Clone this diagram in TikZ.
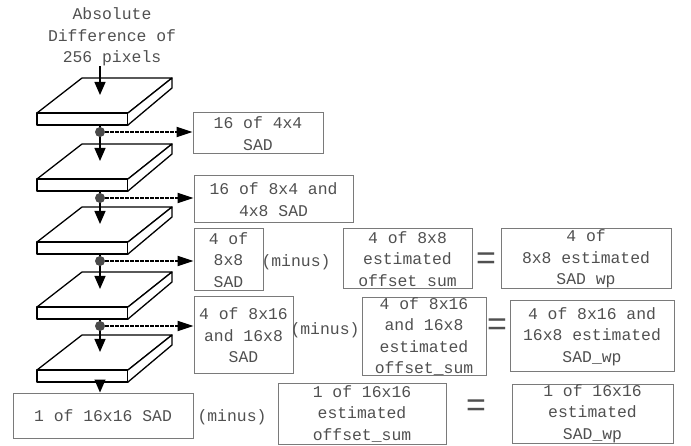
\documentclass[tikz,border=0pt]{standalone}
\usepackage{fontspec}
\newfontfamily\courier{Liberation Mono}
\newfontfamily\arialfont{Liberation Sans}
\usetikzlibrary{arrows.meta}
\definecolor{txtgray}{HTML}{505050}
\definecolor{boxgray}{HTML}{7A7A7A}
\definecolor{dotgray}{HTML}{4A4A4A}

\begin{document}
\begin{tikzpicture}[x=1pt,y=-1pt,
  lbl/.style={text=txtgray, font=\courier\fontsize{16.4}{21.5}\selectfont, align=center, inner sep=0pt},
  sad/.style={lbl, draw=boxgray, line width=1pt},
  eqsign/.style={text=txtgray, font=\arialfont\fontsize{34}{34}\selectfont, inner sep=0pt},
  down/.style={-{Triangle[length=13pt,width=11pt]}, line width=1.2pt},
  tap/.style={-{Triangle[length=16pt,width=10pt]}, line width=1.8pt, dash pattern=on 3.5pt off 1.5pt},
  slab/.style={line width=1.3pt, line join=round, fill=white}]
\useasboundingbox (0,0) rectangle (691,446);

\node[lbl] (title) at (112,37) {Absolute\\Difference of\\256 pixels};

% outputs of each stage
\node[sad, minimum width=130pt, minimum height=41pt] (b1) at (258,133.5) {16 of 4x4\\SAD};
\node[sad, minimum width=159pt, minimum height=47pt] (b2) at (273.5,199.5) {16 of 8x4 and\\4x8 SAD};
\node[sad, minimum width=69pt, minimum height=62pt] (b3) at (228.5,260) {4 of\\8x8\\SAD};
\node[sad, minimum width=99pt, minimum height=77pt] (b4) at (243.5,335.5) {4 of 8x16\\and 16x8\\SAD};
\node[sad, minimum width=180pt, minimum height=45pt] (b5) at (103,415.5) {1 of 16x16 SAD};

% minus offset
\node[lbl] (m3) at (296,262) {(minus)};
\node[lbl] (m4) at (325,330) {(minus)};
\node[lbl] (m5) at (232,417) {(minus)};
\node[sad, minimum width=129pt, minimum height=60pt] (c3) at (407.5,259) {4 of 8x8\\estimated\\offset sum};
\node[sad, minimum width=124pt, minimum height=77pt] (c4) at (424,336.5) {4 of 8x16\\and 16x8\\estimated\\offset\_sum};
\node[sad, minimum width=168pt, minimum height=61pt] (c5) at (362,413.5) {1 of 16x16\\estimated\\offset\_sum};

% results
\node[eqsign] (e3) at (486,261) {=};
\node[eqsign] (e4) at (497,327) {=};
\node[eqsign] (e5) at (476,408) {=};
\node[sad, minimum width=170pt, minimum height=60pt] (d3) at (586,259) {4 of\\8x8 estimated\\SAD wp};
\node[sad, minimum width=164pt, minimum height=71pt] (d4) at (592,336.5) {4 of 8x16 and\\16x8 estimated\\SAD\_wp};
\node[sad, minimum width=161pt, minimum height=59pt] (d5) at (592.5,413.5) {1 of 16x16\\estimated\\SAD\_wp};

% stacked slabs
\foreach \i/\t in {1/78,2/144,3/207,4/272,5/335}{
  \draw[slab] (37,\t+35) -- (82,\t) -- (172,\t) -- (128,\t+35) -- cycle;
  \draw[slab] (37,\t+35) rectangle (128,\t+47);
  \draw[slab] (128,\t+35) -- (172,\t) -- (172,\t+10) -- (128,\t+47);
  \coordinate (top\i) at (100,\t+17);
  \coordinate (bot\i) at (100,\t+47);
}

\draw[down] (title.south -| top1) -- (top1);
\foreach \i/\j in {1/2,2/3,3/4,4/5}{
  \draw[down] (bot\i) -- (top\j);
  \node[circle, fill=dotgray, minimum size=10pt, inner sep=0pt] (dot\i) at ([yshift=-7pt]bot\i) {};
  \draw[tap] (dot\i) -- (dot\i -| b\i.west);
}
\draw[down] (bot5) -- (bot5 |- b5.north);
\end{tikzpicture}
\end{document}
